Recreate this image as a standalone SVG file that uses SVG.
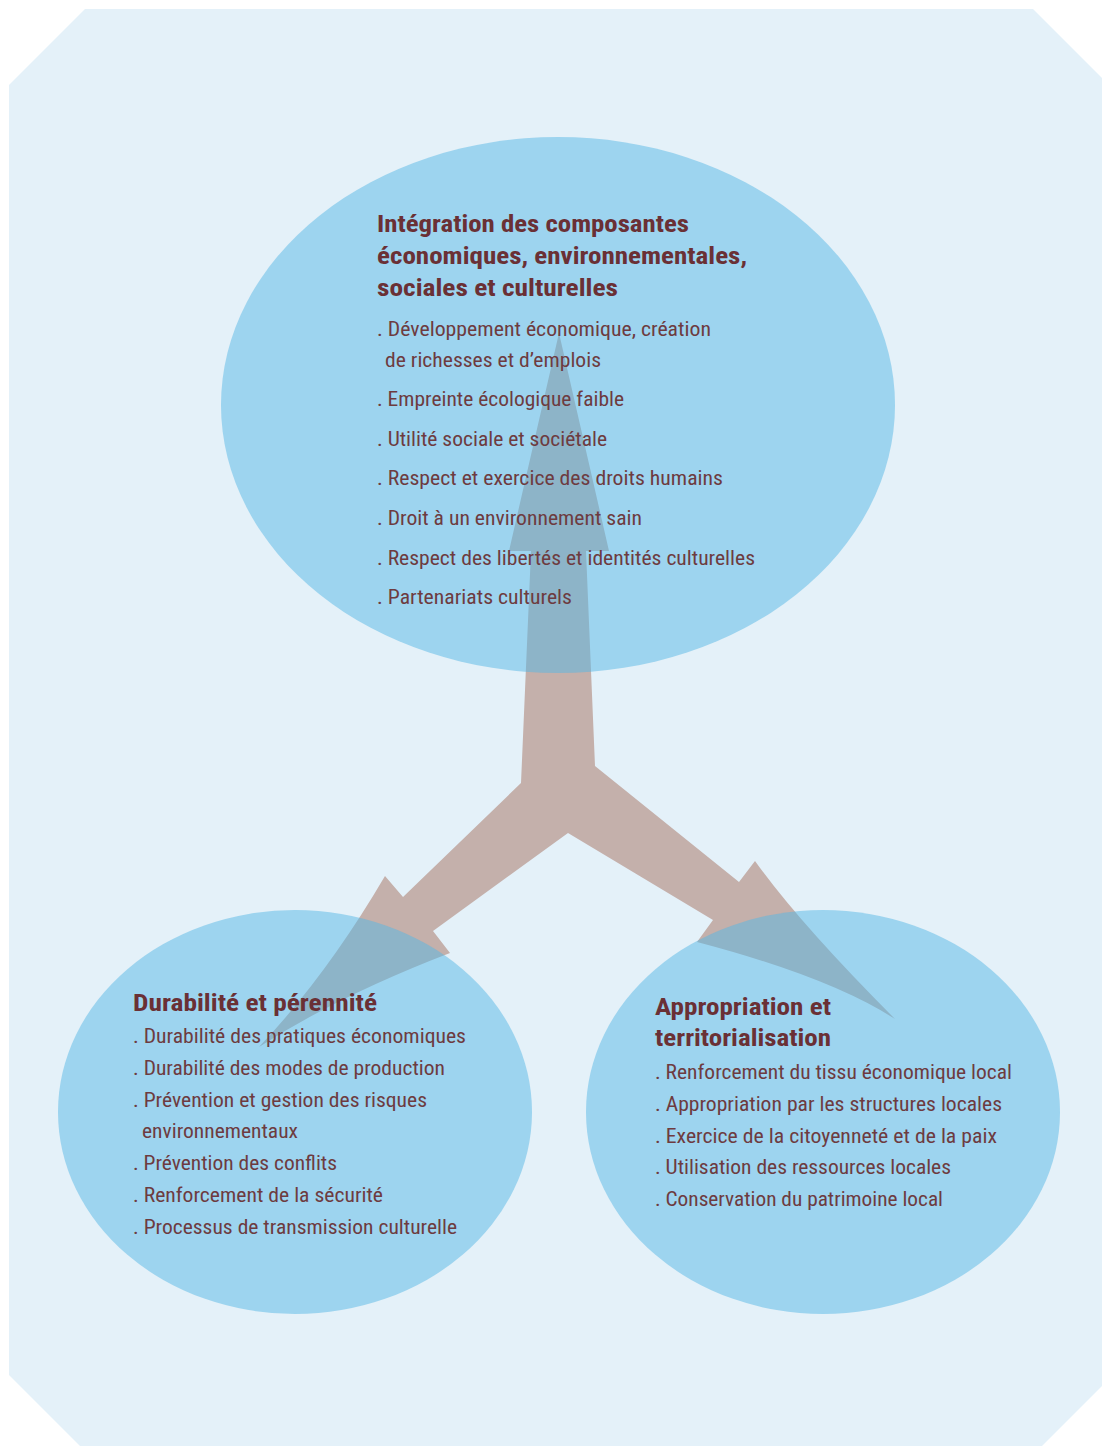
<svg xmlns="http://www.w3.org/2000/svg" width="1102" height="1446" viewBox="0 0 1102 1446">
<style>
.bg{fill:#e4f1f9}
.arrow{fill:#c4b0ab}
.node{fill:#56b7e5;fill-opacity:0.5}
.t{font-family:"Liberation Sans Narrow","Roboto Condensed","Arial Narrow","Liberation Sans",sans-serif;font-weight:bold;font-size:24px;fill:#6a3035}
.i{font-family:"Liberation Sans Narrow","Roboto Condensed","Arial Narrow","Liberation Sans",sans-serif;font-size:20px;fill:#6d3b40}
</style>
<polygon class="bg" points="85,9 1033,9 1110,86 1110,1378 1028,1460 94,1460 9,1375 9,85"/>
<g id="connectors">
<path class="arrow" d="M559,333 L609,551 L586,551 L595,766 L739,882 L755,861 Q800,924 895,1019 Q830,977 697,942 L713,920 L568,833 L433,931 L450,953 Q338,996 259,1047 Q327,975 385,876 L403,897 L521,783 L531,551 L509,551 Z"/>
</g>
<g id="node-integration">
<ellipse class="node" cx="558" cy="405" rx="337" ry="268"/>
<text class="t" x="377" y="232" textLength="312" lengthAdjust="spacingAndGlyphs">Intégration des composantes</text>
<text class="t" x="377" y="264" textLength="370" lengthAdjust="spacingAndGlyphs">économiques, environnementales,</text>
<text class="t" x="377" y="296" textLength="241" lengthAdjust="spacingAndGlyphs">sociales et culturelles</text>
<text class="i" x="377" y="336" textLength="334" lengthAdjust="spacingAndGlyphs">. Développement économique, création</text>
<text class="i" x="385" y="367" textLength="216" lengthAdjust="spacingAndGlyphs">de richesses et d’emplois</text>
<text class="i" x="377" y="406" textLength="247" lengthAdjust="spacingAndGlyphs">. Empreinte écologique faible</text>
<text class="i" x="377" y="446" textLength="230" lengthAdjust="spacingAndGlyphs">. Utilité sociale et sociétale</text>
<text class="i" x="377" y="485" textLength="346" lengthAdjust="spacingAndGlyphs">. Respect et exercice des droits humains</text>
<text class="i" x="377" y="525" textLength="265" lengthAdjust="spacingAndGlyphs">. Droit à un environnement sain</text>
<text class="i" x="377" y="565" textLength="378" lengthAdjust="spacingAndGlyphs">. Respect des libertés et identités culturelles</text>
<text class="i" x="377" y="604" textLength="195" lengthAdjust="spacingAndGlyphs">. Partenariats culturels</text>
</g>
<g id="node-durabilite">
<ellipse class="node" cx="295" cy="1112" rx="237" ry="202"/>
<text class="t" x="133" y="1011" textLength="244" lengthAdjust="spacingAndGlyphs">Durabilité et pérennité</text>
<text class="i" x="133" y="1043" textLength="333" lengthAdjust="spacingAndGlyphs">. Durabilité des pratiques économiques</text>
<text class="i" x="133" y="1075" textLength="312" lengthAdjust="spacingAndGlyphs">. Durabilité des modes de production</text>
<text class="i" x="133" y="1107" textLength="294" lengthAdjust="spacingAndGlyphs">. Prévention et gestion des risques</text>
<text class="i" x="142" y="1138" textLength="156" lengthAdjust="spacingAndGlyphs">environnementaux</text>
<text class="i" x="133" y="1170" textLength="204" lengthAdjust="spacingAndGlyphs">. Prévention des conflits</text>
<text class="i" x="133" y="1202" textLength="250" lengthAdjust="spacingAndGlyphs">. Renforcement de la sécurité</text>
<text class="i" x="133" y="1234" textLength="324" lengthAdjust="spacingAndGlyphs">. Processus de transmission culturelle</text>
</g>
<g id="node-appropriation">
<ellipse class="node" cx="823" cy="1112" rx="237" ry="202"/>
<text class="t" x="655" y="1015" textLength="176" lengthAdjust="spacingAndGlyphs">Appropriation et</text>
<text class="t" x="655" y="1046" textLength="176" lengthAdjust="spacingAndGlyphs">territorialisation</text>
<text class="i" x="655" y="1079" textLength="357" lengthAdjust="spacingAndGlyphs">. Renforcement du tissu économique local</text>
<text class="i" x="655" y="1111" textLength="347" lengthAdjust="spacingAndGlyphs">. Appropriation par les structures locales</text>
<text class="i" x="655" y="1143" textLength="342" lengthAdjust="spacingAndGlyphs">. Exercice de la citoyenneté et de la paix</text>
<text class="i" x="655" y="1174" textLength="296" lengthAdjust="spacingAndGlyphs">. Utilisation des ressources locales</text>
<text class="i" x="655" y="1206" textLength="288" lengthAdjust="spacingAndGlyphs">. Conservation du patrimoine local</text>
</g>
</svg>
